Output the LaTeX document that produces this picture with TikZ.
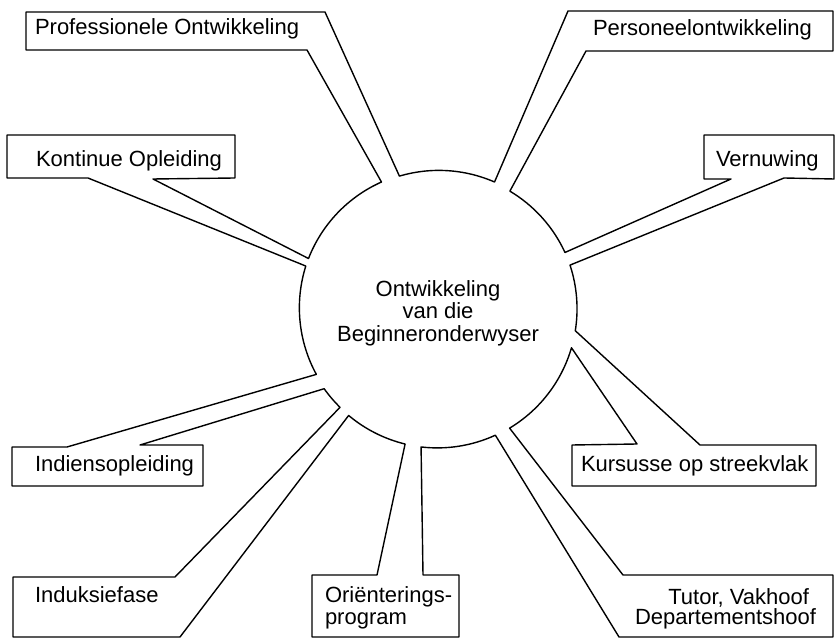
\documentclass[tikz,border=0pt]{standalone}
\usepackage{fontspec}
\setmainfont{Liberation Sans}
\begin{document}
\begin{tikzpicture}[x=1pt,y=1pt,
  outline/.style={draw=black,line width=1.4pt,line join=round},
  lbl/.style={inner sep=0pt,outer sep=0pt,font=\fontsize{22}{24}\selectfont},
  hubshape/.style={circle,minimum size=278pt,inner sep=0pt,outer sep=0pt,draw=none}]
\useasboundingbox (0,0) rectangle (836,640);

% central hub
\node[hubshape] (hub) at (438,331) {};
\node[lbl,anchor=base] (h1) at (438,343) {Ontwikkeling};
\node[lbl,anchor=base] (h2) at (438,321) {van die};
\node[lbl,anchor=base] (h3) at (438,298) {Beginneronderwyser};

% labels
\node[lbl,anchor=base west] (prof) at (35,605) {Professionele Ontwikkeling};
\node[lbl,anchor=base west] (pers) at (593,604) {Personeelontwikkeling};
\node[lbl,anchor=base west] (kont) at (36,473) {Kontinue Opleiding};
\node[lbl,anchor=base west] (vern) at (716,473) {Vernuwing};
\node[lbl,anchor=base west] (indi) at (35,168) {Indiensopleiding};
\node[lbl,anchor=base west] (kurs) at (581,168) {Kursusse op streekvlak};
\node[lbl,anchor=base west] (indu) at (35,37) {Induksiefase};
\node[lbl,anchor=base west] (ori1) at (325,37) {Oriënterings-};
\node[lbl,anchor=base west] (ori2) at (325,15) {program};
\node[lbl,anchor=base east] (tut1) at (809,35) {Tutor, Vakhoof};
\node[lbl,anchor=base east] (tut2) at (816,15) {Departementshoof};

% one outline: hub arcs, spokes and the open boxes they lead into
\draw[outline]
  (hub.-9.1) arc[start angle=-9.1,end angle=18.3,radius=139pt]
  -- (784,462) -- (834,461) -- (834,505) -- (704,505) -- (704,461) -- (731,461)
  -- (hub.24.7) arc[start angle=24.7,end angle=59.2,radius=139pt]
  -- (586,589) -- (833,589) -- (833,629) -- (568,629)
  -- (hub.66.4) arc[start angle=66.4,end angle=106.5,radius=139pt]
  -- (325,628) -- (26,628) -- (26,590) -- (307,590)
  -- (hub.114) arc[start angle=114,end angle=158.7,radius=139pt]
  -- (153,461) -- (235,462) -- (235,505) -- (7,505) -- (7,462) -- (88,462)
  -- (hub.162.5) arc[start angle=162.5,end angle=208.6,radius=139pt]
  -- (67,193) -- (12,193) -- (12,154) -- (203,154) -- (203,195) -- (140,195)
  -- (hub.215.5) arc[start angle=215.5,end angle=225.6,radius=139pt]
  -- (175,63) -- (13,63) -- (13,3) -- (180,3)
  -- (hub.230) arc[start angle=230,end angle=256.3,radius=139pt]
  -- (377,65) -- (312,65) -- (312,3) -- (459,3) -- (459,65) -- (423,65)
  -- (hub.263.3) arc[start angle=263.3,end angle=294.7,radius=139pt]
  -- (619,3) -- (833,3) -- (833,65) -- (623,65)
  -- (hub.301) arc[start angle=301,end angle=343.8,radius=139pt]
  -- (637,196) -- (572,195) -- (572,154) -- (816,154) -- (816,195) -- (700,195)
  -- cycle;
\end{tikzpicture}
\end{document}
